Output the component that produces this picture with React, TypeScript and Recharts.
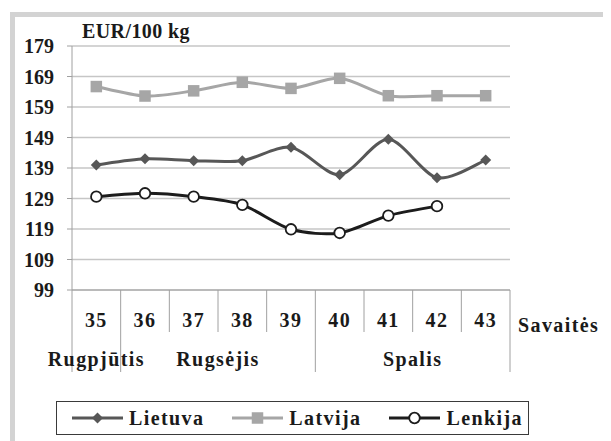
import React from 'react';
import { LineChart, Line, XAxis, YAxis, CartesianGrid, Legend } from 'recharts';

const weeks = ['35', '36', '37', '38', '39', '40', '41', '42', '43'];
const lietuva = [140.0, 142.0, 141.4, 141.4, 145.8, 136.8, 148.4, 135.8, 141.6];
const latvija = [165.7, 162.6, 164.3, 167.1, 165.1, 168.4, 162.7, 162.7, 162.7];
const lenkija = [129.6, 130.7, 129.6, 126.9, 118.9, 117.7, 123.4, 126.5, null];
const months = ['Rugpjūtis', 'Rugsėjis', 'Spalis'];
const monthSpans = [1, 4, 4];
const yTicks = [99, 109, 119, 129, 139, 149, 159, 169, 179];

const data = weeks.map((w, i) => ({
  week: w,
  Lietuva: lietuva[i],
  Latvija: latvija[i],
  Lenkija: lenkija[i],
}));

const FONT = '"Liberation Serif", "Times New Roman", serif';
const TEXT = '#1a1a1a';
const GRID = '#c6c6c6';
const AXIS = '#a0a0a0';
const C_LT = '#575757';
const C_LV = '#a6a6a6';
const C_PL = '#1c1c1c';
// half of one category band (plot width 438 / 9 weeks / 2)
const HALF = 438 / 9 / 2;

// Excel-like smoothed line, low tension
const smooth = (ctx: any) => {
  let pts: number[][] = [];
  const k = 7;
  return {
    areaStart() {},
    areaEnd() {},
    lineStart() {
      pts = [];
    },
    point(x: number, y: number) {
      pts.push([x, y]);
    },
    lineEnd() {
      if (!pts.length) return;
      ctx.moveTo(pts[0][0], pts[0][1]);
      for (let i = 0; i < pts.length - 1; i++) {
        const p0 = pts[i - 1] || pts[i];
        const p1 = pts[i];
        const p2 = pts[i + 1];
        const p3 = pts[i + 2] || p2;
        ctx.bezierCurveTo(
          p1[0] + (p2[0] - p0[0]) / k,
          p1[1] + (p2[1] - p0[1]) / k,
          p2[0] - (p3[0] - p1[0]) / k,
          p2[1] - (p3[1] - p1[1]) / k,
          p2[0],
          p2[1]
        );
      }
    },
  };
};

const Diamond = ({ cx, cy, s = 5.5 }: any) => (
  <path d={`M${cx} ${cy - s}L${cx + s} ${cy}L${cx} ${cy + s}L${cx - s} ${cy}Z`} fill={C_LT} />
);
const Square = ({ cx, cy, s = 5.75 }: any) => (
  <rect x={cx - s} y={cy - s} width={s * 2} height={s * 2} fill={C_LV} />
);
const Ring = ({ cx, cy }: any) => (
  <circle cx={cx} cy={cy} r={5.3} fill="#fff" stroke={C_PL} strokeWidth={1.8} />
);

const dotOf = (Shape: any) => (p: any) => {
  if (p.cx == null || p.cy == null || p.value == null) return <g key={`n-${p.index}`} />;
  return <Shape key={`d-${p.index}`} cx={p.cx} cy={p.cy} />;
};

const monthStarts = monthSpans.map((_, i) => monthSpans.slice(0, i).reduce((a, b) => a + b, 0));

const WeekTick = (props: any) => {
  const { x, y, index, payload } = props;
  const mi = monthStarts.indexOf(index);
  const last = index === weeks.length - 1;
  const txt = { fontFamily: FONT, fontWeight: 700, fontSize: 20, fill: TEXT, letterSpacing: 1.4 };
  return (
    <g>
      <line x1={x - HALF} x2={x - HALF} y1={y} y2={y + (mi >= 0 ? 82 : 42)} stroke={AXIS} />
      {last && <line x1={x + HALF} x2={x + HALF} y1={y} y2={y + 82} stroke={AXIS} />}
      <text x={x} y={y + 37} textAnchor="middle" {...txt}>
        {payload.value}
      </text>
      {mi >= 0 && (
        <text x={x + (monthSpans[mi] - 1) * HALF} y={y + 76} textAnchor="middle" {...txt}>
          {months[mi]}
        </text>
      )}
      {last && (
        <text x={x + HALF + 8} y={y + 42} textAnchor="start" {...txt}>
          Savaitės
        </text>
      )}
    </g>
  );
};

const series = [
  { name: 'Lietuva', color: C_LT, Shape: Diamond },
  { name: 'Latvija', color: C_LV, Shape: Square },
  { name: 'Lenkija', color: C_PL, Shape: Ring },
];

const LegendBox = () => (
  <div
    style={{
      boxSizing: 'border-box',
      width: 473,
      height: 34,
      border: '1px solid #3a3a3a',
      display: 'flex',
      alignItems: 'center',
      paddingLeft: 15,
      background: '#fff',
    }}
  >
    {series.map((s, i) => (
      <div key={s.name} style={{ display: 'flex', alignItems: 'center', marginRight: i < 2 ? 28 : 0 }}>
        <svg width={51} height={14} style={{ display: 'block' }}>
          <line x1={0} x2={51} y1={7} y2={7} stroke={s.color} strokeWidth={3} />
          <s.Shape cx={25.5} cy={7} />
        </svg>
        <span
          style={{
            marginLeft: 6,
            fontFamily: FONT,
            fontWeight: 700,
            fontSize: 20,
            letterSpacing: 1.4,
            color: TEXT,
            lineHeight: '20px',
          }}
        >
          {s.name}
        </span>
      </div>
    ))}
  </div>
);

export default function App() {
  return (
    <div
      style={{
        position: 'relative',
        margin: '-8px 0 0 -8px',
        width: 611,
        height: 441,
        background: '#fff',
        overflow: 'hidden',
        fontFamily: FONT,
      }}
    >
      <div
        style={{
          position: 'absolute',
          left: 10,
          top: 12,
          width: 594,
          height: 440,
          borderLeft: '5px solid #d3d3d3',
          borderTop: '5px solid #d3d3d3',
          borderRight: '2px solid #d3d3d3',
        }}
      />
      <div style={{ position: 'absolute', left: 0, top: 0 }}>
        <LineChart width={611} height={441} data={data} margin={{ top: 46, right: 101, bottom: 121, left: 0 }}>
          <CartesianGrid vertical={false} stroke={GRID} strokeWidth={1.3} />
          <XAxis
            dataKey="week"
            height={30}
            padding={{ left: HALF, right: HALF }}
            tickLine={false}
            tickSize={0}
            tickMargin={0}
            interval={0}
            axisLine={{ stroke: AXIS }}
            tick={<WeekTick />}
          />
          <YAxis
            width={72}
            domain={[99, 179]}
            ticks={yTicks}
            interval={0}
            tickSize={5}
            tickMargin={13}
            axisLine={{ stroke: AXIS }}
            tickLine={{ stroke: AXIS }}
            tick={{ fontFamily: FONT, fontWeight: 700, fontSize: 20, fill: TEXT }}
            label={{
              content: (p: any) => (
                <text
                  x={p.viewBox.x + p.viewBox.width + 10}
                  y={p.viewBox.y - 8}
                  fontFamily={FONT}
                  fontWeight={700}
                  fontSize={20}
                  letterSpacing={0.4}
                  fill={TEXT}
                >
                  EUR/100 kg
                </text>
              ),
            }}
          />
          <YAxis yAxisId="edge" orientation="right" width={0} tick={false} tickLine={false} axisLine={{ stroke: GRID, strokeWidth: 1.3 }} />
          <Legend
            layout="horizontal"
            verticalAlign="middle"
            align="center"
            wrapperStyle={{ left: 56, top: 401, width: 473, height: 34 }}
            content={() => <LegendBox />}
          />
          <Line
            dataKey="Latvija"
            type={smooth as any}
            stroke={C_LV}
            strokeWidth={3}
            dot={dotOf(Square)}
            activeDot={false}
            isAnimationActive={false}
          />
          <Line
            dataKey="Lietuva"
            type={smooth as any}
            stroke={C_LT}
            strokeWidth={3}
            dot={dotOf(Diamond)}
            activeDot={false}
            isAnimationActive={false}
          />
          <Line
            dataKey="Lenkija"
            type={smooth as any}
            stroke={C_PL}
            strokeWidth={3}
            dot={dotOf(Ring)}
            activeDot={false}
            isAnimationActive={false}
          />
        </LineChart>
      </div>
    </div>
  );
}
